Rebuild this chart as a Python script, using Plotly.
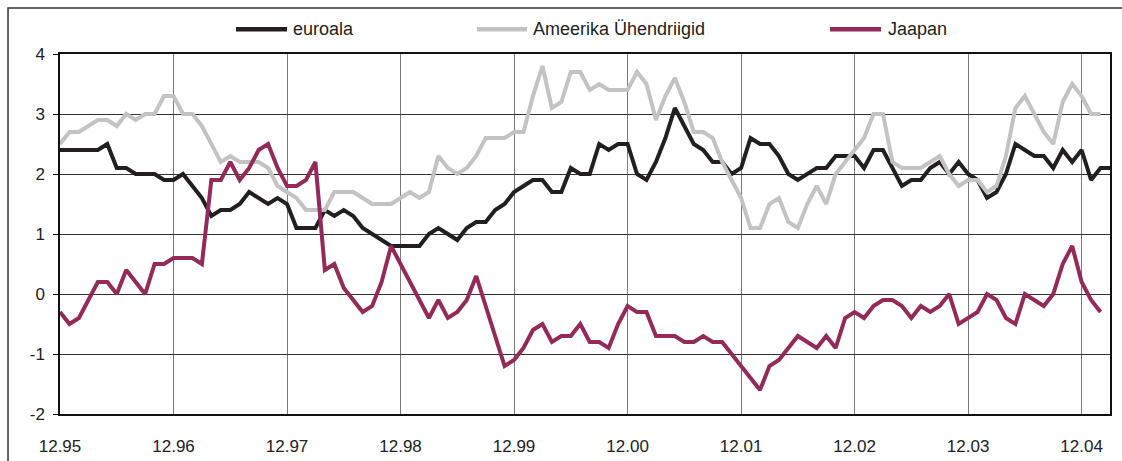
import plotly.graph_objects as go

# monthly inflation, %, Dec 1995 onwards
euro = [2.4, 2.4, 2.4, 2.4, 2.4, 2.5, 2.1, 2.1, 2.0, 2.0, 2.0, 1.9, 1.9, 2.0, 1.8, 1.6,
        1.3, 1.4, 1.4, 1.5, 1.7, 1.6, 1.5, 1.6, 1.5, 1.1, 1.1, 1.1, 1.4, 1.3, 1.4, 1.3,
        1.1, 1.0, 0.9, 0.8, 0.8, 0.8, 0.8, 1.0, 1.1, 1.0, 0.9, 1.1, 1.2, 1.2, 1.4, 1.5,
        1.7, 1.8, 1.9, 1.9, 1.7, 1.7, 2.1, 2.0, 2.0, 2.5, 2.4, 2.5, 2.5, 2.0, 1.9, 2.2,
        2.6, 3.1, 2.8, 2.5, 2.4, 2.2, 2.2, 2.0, 2.1, 2.6, 2.5, 2.5, 2.3, 2.0, 1.9, 2.0,
        2.1, 2.1, 2.3, 2.3, 2.3, 2.1, 2.4, 2.4, 2.1, 1.8, 1.9, 1.9, 2.1, 2.2, 2.0, 2.2,
        2.0, 1.9, 1.6, 1.7, 2.0, 2.5, 2.4, 2.3, 2.3, 2.1, 2.4, 2.2, 2.4, 1.9, 2.1, 2.1]

usa = [2.5, 2.7, 2.7, 2.8, 2.9, 2.9, 2.8, 3.0, 2.9, 3.0, 3.0, 3.3, 3.3, 3.0, 3.0, 2.8,
       2.5, 2.2, 2.3, 2.2, 2.2, 2.2, 2.1, 1.8, 1.7, 1.6, 1.4, 1.4, 1.4, 1.7, 1.7, 1.7,
       1.6, 1.5, 1.5, 1.5, 1.6, 1.7, 1.6, 1.7, 2.3, 2.1, 2.0, 2.1, 2.3, 2.6, 2.6, 2.6,
       2.7, 2.7, 3.3, 3.8, 3.1, 3.2, 3.7, 3.7, 3.4, 3.5, 3.4, 3.4, 3.4, 3.7, 3.5, 2.9,
       3.3, 3.6, 3.2, 2.7, 2.7, 2.6, 2.2, 1.9, 1.6, 1.1, 1.1, 1.5, 1.6, 1.2, 1.1, 1.5,
       1.8, 1.5, 2.0, 2.2, 2.4, 2.6, 3.0, 3.0, 2.2, 2.1, 2.1, 2.1, 2.2, 2.3, 2.0, 1.8,
       1.9, 1.9, 1.7, 1.8, 2.3, 3.1, 3.3, 3.0, 2.7, 2.5, 3.2, 3.5, 3.3, 3.0, 3.0]

japan = [-0.3, -0.5, -0.4, -0.1, 0.2, 0.2, 0.0, 0.4, 0.2, 0.0, 0.5, 0.5, 0.6, 0.6, 0.6, 0.5,
         1.9, 1.9, 2.2, 1.9, 2.1, 2.4, 2.5, 2.1, 1.8, 1.8, 1.9, 2.2, 0.4, 0.5, 0.1, -0.1,
         -0.3, -0.2, 0.2, 0.8, 0.5, 0.2, -0.1, -0.4, -0.1, -0.4, -0.3, -0.1, 0.3, -0.2, -0.7, -1.2,
         -1.1, -0.9, -0.6, -0.5, -0.8, -0.7, -0.7, -0.5, -0.8, -0.8, -0.9, -0.5, -0.2, -0.3, -0.3, -0.7,
         -0.7, -0.7, -0.8, -0.8, -0.7, -0.8, -0.8, -1.0, -1.2, -1.4, -1.6, -1.2, -1.1, -0.9, -0.7, -0.8,
         -0.9, -0.7, -0.9, -0.4, -0.3, -0.4, -0.2, -0.1, -0.1, -0.2, -0.4, -0.2, -0.3, -0.2, 0.0, -0.5,
         -0.4, -0.3, 0.0, -0.1, -0.4, -0.5, 0.0, -0.1, -0.2, 0.0, 0.5, 0.8, 0.2, -0.1, -0.3]

tick_labels = ["12.95", "12.96", "12.97", "12.98", "12.99", "12.00",
               "12.01", "12.02", "12.03", "12.04"]
y_ticks = [-2, -1, 0, 1, 2, 3, 4]

series = [
    ("euroala", euro, "#231f20"),
    ("Ameerika Ühendriigid", usa, "#c3c3c3"),
    ("Jaapan", japan, "#932a58"),
]

FONT = "Liberation Sans, Arial, sans-serif"

fig = go.Figure()
for name, vals, color in series:
    fig.add_trace(go.Scatter(
        x=list(range(len(vals))),
        y=vals,
        mode="lines",
        name=name,
        line=dict(color=color, width=4),
    ))

# hand drawn legend, positions in paper coords
legend_pos = [(0.1676, 0.2162, 0.2200), (0.3971, 0.4448, 0.4490), (0.7333, 0.7819, 0.7862)]
shapes = []
annotations = []
for (name, vals, color), (x0, x1, xt) in zip(series, legend_pos):
    shapes.append(dict(type="line", xref="paper", yref="paper", x0=x0, x1=x1,
                       y0=1.069, y1=1.069, line=dict(color=color, width=4.5)))
    annotations.append(dict(text=name, xref="paper", yref="paper", x=xt, y=1.069,
                            xanchor="left", yanchor="middle", showarrow=False,
                            font=dict(size=18, color="#222", family=FONT)))

# outer frame
shapes.append(dict(type="rect", xref="paper", yref="paper", x0=-0.0495, x1=1.03,
                   y0=-0.2, y1=1.1278, line=dict(color="#333", width=1.5), layer="below"))

fig.update_layout(
    width=1122, height=461,
    margin=dict(l=60, r=12, t=54, b=47),
    paper_bgcolor="white", plot_bgcolor="white",
    showlegend=False,
    shapes=shapes,
    annotations=annotations,
    font=dict(family=FONT, size=17, color="#222"),
)
fig.update_xaxes(
    range=[0, 111], automargin=False,
    tickvals=[12 * i for i in range(len(tick_labels))],
    ticktext=tick_labels,
    showgrid=True, gridcolor="#7a7a7a", gridwidth=1,
    showline=True, linecolor="#111", linewidth=1.5, mirror=True,
    ticks="", ticklabelstandoff=16,
    zeroline=False,
)
fig.update_yaxes(
    range=[-2, 4], automargin=False,
    tickvals=y_ticks, ticktext=[str(v) for v in y_ticks],
    showgrid=True, gridcolor="#333", gridwidth=1,
    showline=True, linecolor="#111", linewidth=1.5, mirror=True,
    ticks="outside", ticklen=5, tickcolor="#111", ticklabelstandoff=5,
    zeroline=False,
)

# page body has a default margin, drop it so the figure sits at 0,0
fig.write_html("out.html", config={"displayModeBar": False},
               post_script="document.body.style.margin='0';")
